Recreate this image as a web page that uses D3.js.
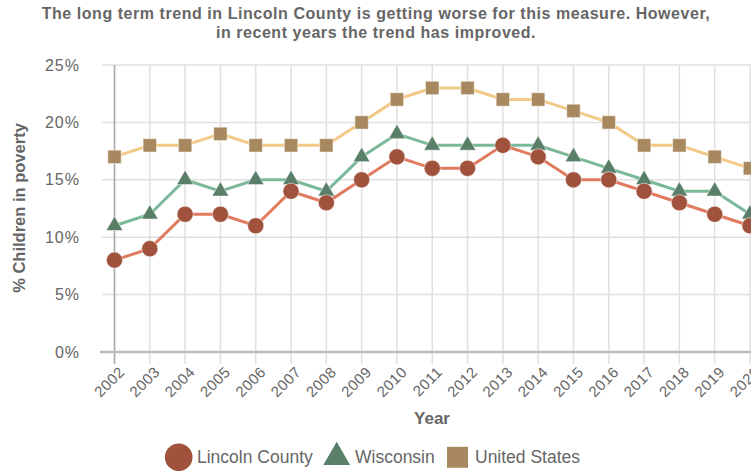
<!DOCTYPE html>
<html><head><meta charset="utf-8">
<script src="https://cdn.jsdelivr.net/npm/d3@7"></script>
<style>body{margin:0;background:#fff;font-family:"Liberation Sans",Arial,sans-serif}</style>
</head><body><svg id="c" width="751" height="471"></svg>
<script>
const years = [2002,2003,2004,2005,2006,2007,2008,2009,2010,2011,2012,2013,2014,2015,2016,2017,2018,2019,2020];
const lincoln = [8,9,12,12,11,14,13,15,17,16,16,18,17,15,15,14,13,12,11];
const wisconsin = [11,12,15,14,15,15,14,17,19,18,18,18,18,17,16,15,14,14,12];
const unitedStates = [17,18,18,19,18,18,18,20,22,23,23,22,22,21,20,18,18,17,16];
const yTicks = [0,5,10,15,20,25];
const seriesNames = ["Lincoln County","Wisconsin","United States"];

const svg = d3.select("#c");
const x = d3.scaleLinear().domain([2002,2020]).range([114.5,750]);
const y = d3.scaleLinear().domain([0,25]).range([352,65]);
const grey = "#666";

// grid
svg.append("g").selectAll("line").data(yTicks).join("line")
  .attr("x1",102).attr("x2",751).attr("y1",d=>y(d)).attr("y2",d=>y(d))
  .attr("stroke","#e0e0e0").attr("stroke-width",1.5);
svg.append("g").selectAll("line").data(years).join("line")
  .attr("x1",d=>x(d)).attr("x2",d=>x(d)).attr("y1",65).attr("y2",364)
  .attr("stroke","#e0e0e0").attr("stroke-width",1.5);
// axes lines
svg.append("line").attr("x1",x(2002)).attr("x2",x(2002)).attr("y1",65).attr("y2",364)
  .attr("stroke","#aaa").attr("stroke-width",1.5);
svg.append("line").attr("x1",100).attr("x2",751).attr("y1",352).attr("y2",352)
  .attr("stroke","#bbb").attr("stroke-width",2.5);

// y tick labels
svg.append("g").selectAll("text").data(yTicks).join("text")
  .attr("x",80).attr("y",d=>y(d)).attr("dy","0.35em").attr("text-anchor","end")
  .attr("fill",grey).style("font-size","16px").style("letter-spacing","1px").text(d=>d+"%");
// x tick labels
svg.append("g").selectAll("text").data(years).join("text")
  .attr("transform",d=>`translate(${x(d)+3},${365}) rotate(-45)`)
  .attr("text-anchor","end").attr("dy","0.75em")
  .attr("fill",grey).style("font-size","15px").style("letter-spacing","0.5px").text(d=>d);

// titles
svg.append("text").attr("x",376).attr("y",19).attr("text-anchor","middle")
  .attr("fill",grey).style("font-size","16px").style("letter-spacing","0.55px").style("font-weight","bold")
  .text("The long term trend in Lincoln County is getting worse for this measure. However,");
svg.append("text").attr("x",376).attr("y",37.5).attr("text-anchor","middle")
  .attr("fill",grey).style("font-size","16px").style("letter-spacing","0.55px").style("font-weight","bold")
  .text("in recent years the trend has improved.");
svg.append("text").attr("x",432).attr("y",424).attr("text-anchor","middle")
  .attr("fill",grey).style("font-size","17px").style("font-weight","bold").text("Year");
svg.append("text").attr("transform","translate(25,208) rotate(-90)").attr("text-anchor","middle")
  .attr("fill",grey).style("font-size","16.5px").style("font-weight","bold").text("% Children in poverty");

const series = [
  {name:seriesNames[2], vals:unitedStates, line:"#f3c987", fill:"#a8895f", sym:d3.symbolSquare, size:180},
  {name:seriesNames[1], vals:wisconsin, line:"#7ab89a", fill:"#5a7f69", sym:d3.symbolTriangle, size:120},
  {name:seriesNames[0], vals:lincoln, line:"#e07b5f", fill:"#a0523d", sym:d3.symbolCircle, size:205}
];
const line = d3.line().x((d,i)=>x(years[i])).y(d=>y(d));
series.forEach(s=>{
  svg.append("path").datum(s.vals).attr("d",line).attr("fill","none")
    .attr("stroke",s.line).attr("stroke-width",3);
  svg.append("g").selectAll("path").data(s.vals).join("path")
    .attr("transform",(d,i)=>`translate(${x(years[i])},${y(d)})`)
    .attr("d",d3.symbol().type(s.sym).size(s.size))
    .attr("fill",s.fill).attr("stroke","#fff").attr("stroke-opacity",0.5).attr("stroke-width",1);
});

// legend
const leg = [
  {name:seriesNames[0], cx:178.7, tx:197, fill:"#a0523d", sym:d3.symbolCircle, size:600},
  {name:seriesNames[1], cx:336.7, tx:355, fill:"#5a7f69", sym:d3.symbolTriangle, size:310},
  {name:seriesNames[2], cx:457.5, tx:475, fill:"#a8895f", sym:d3.symbolSquare, size:441}
];
leg.forEach(l=>{
  svg.append("path").attr("transform",`translate(${l.cx},457.3)`)
    .attr("d",d3.symbol().type(l.sym).size(l.size)).attr("fill",l.fill);
  svg.append("text").attr("x",l.tx).attr("y",457.3).attr("dy","0.35em")
    .attr("fill",grey).style("font-size","17.5px").text(l.name);
});
</script></body></html>
